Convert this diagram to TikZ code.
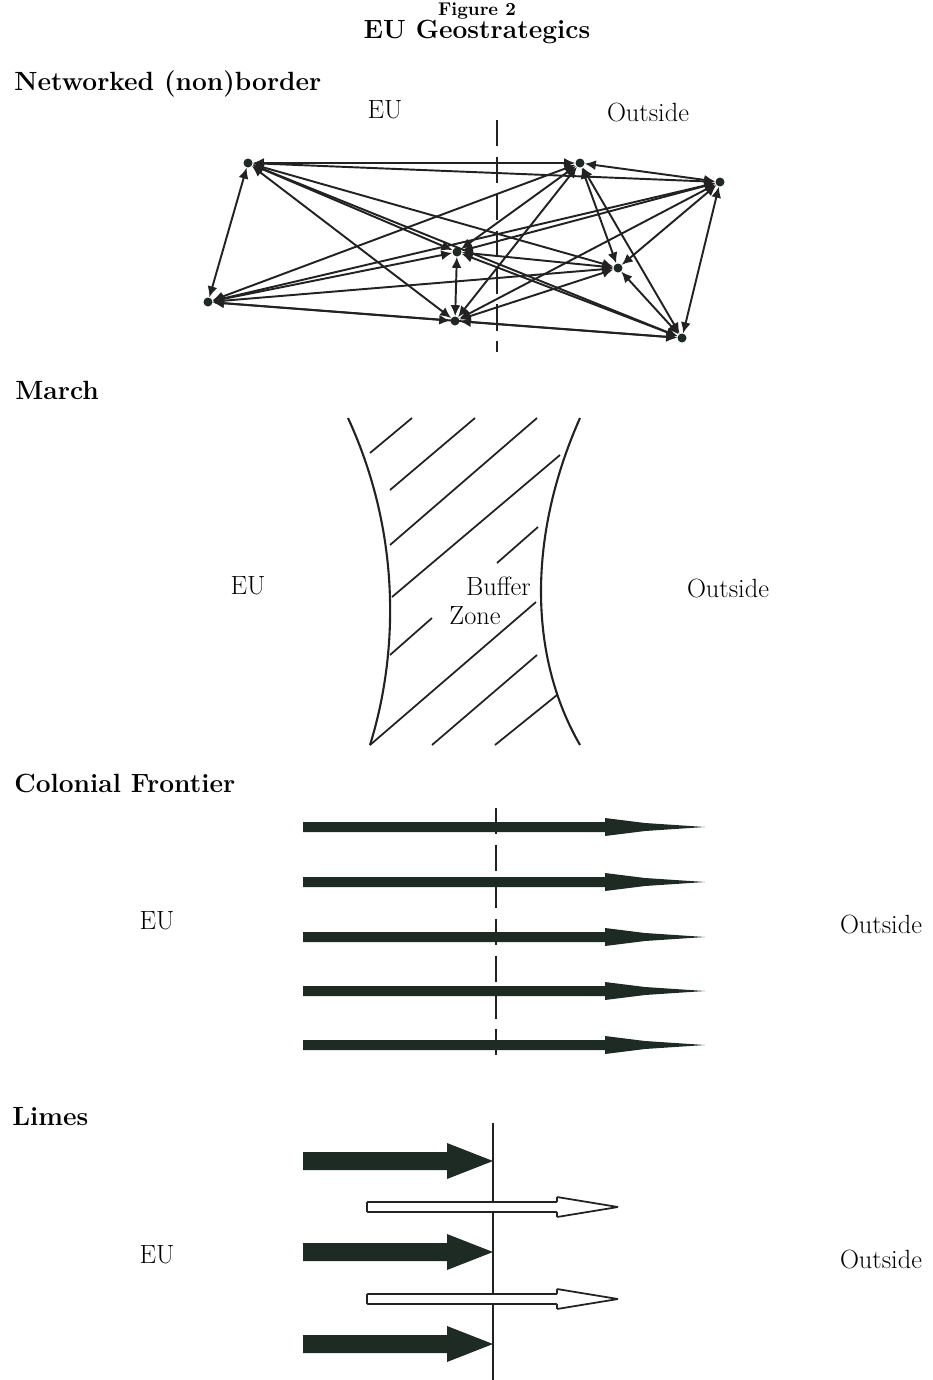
\documentclass[tikz,border=0pt]{standalone}
\usetikzlibrary{arrows.meta}

\definecolor{inkdark}{HTML}{1E2B24}
\definecolor{inkline}{HTML}{222222}

\tikzset{
  heading/.style={anchor=base west,inner sep=0pt,font=\bfseries\fontsize{15}{18}\selectfont},
  label/.style={inner sep=0pt,font=\fontsize{15}{18}\selectfont},
  netnode/.style={circle,fill=inkdark,inner sep=0pt,minimum size=0.18cm},
  netline/.style={draw=inkline,line width=1.1pt,{Latex[length=0.22cm,width=0.2cm]}-{Latex[length=0.22cm,width=0.2cm]}},
  borderdash/.style={draw=inkline,line width=1pt,dash pattern=on 15pt off 6pt},
  marchline/.style={draw=inkline,line width=1.2pt},
  hatch/.style={draw=inkline,line width=1pt},
  frontierarrow/.style={fill=inkdark},
  heavyarrow/.style={fill=inkdark},
  hollowarrow/.style={draw=inkline,fill=white,line width=1pt,rounded corners=0.5pt}
}

\begin{document}
\begin{tikzpicture}[x=0.02cm,y=-0.02cm]
\useasboundingbox (0,0) rectangle (933,1380);

% title
\node[anchor=base,inner sep=0pt,font=\bfseries\fontsize{10.5}{12}\selectfont] (fig) at (477,15) {Figure 2};
\node[anchor=base,inner sep=0pt,font=\bfseries\fontsize{15}{18}\selectfont] (title) at (477,38) {EU Geostrategics};

% networked (non)border
\node[heading] (hnet) at (14,90) {Networked (non)border};
\node[label] (neteu) at (385,110) {EU};
\node[label] (netout) at (648,112) {Outside};

\draw[borderdash] (497,120) -- (497,352);

\node[netnode] (A) at (248,163) {};
\node[netnode] (B) at (580,163) {};
\node[netnode] (C) at (720,182) {};
\node[netnode] (D) at (457,252) {};
\node[netnode] (E) at (618,268) {};
\node[netnode] (F) at (208,302) {};
\node[netnode] (G) at (455,321) {};
\node[netnode] (H) at (682,338) {};

\path (A) edge[netline] (B) edge[netline] (C) edge[netline] (D) edge[netline] (E)
          edge[netline] (F) edge[netline] (G) edge[netline] (H);
\path (B) edge[netline] (C) edge[netline] (D) edge[netline] (E) edge[netline] (F)
          edge[netline] (G) edge[netline] (H);
\path (C) edge[netline] (D) edge[netline] (E) edge[netline] (F) edge[netline] (G)
          edge[netline] (H);
\path (D) edge[netline] (E) edge[netline] (F) edge[netline] (G) edge[netline] (H);
\path (E) edge[netline] (F) edge[netline] (G) edge[netline] (H);
\path (F) edge[netline] (G) edge[netline] (H);
\path (G) edge[netline] (H);

% march
\node[heading] (hmarch) at (15,399) {March};

\draw[marchline] (348,418) .. controls (402,535) and (398,655) .. (370,745);
\draw[marchline] (580,418) .. controls (528,535) and (528,655) .. (580,745);

\draw[hatch] (370,453) -- (412,418);
\draw[hatch] (390,490) -- (475,418);
\draw[hatch] (390,545) -- (537,418);
\draw[hatch] (392,597) -- (560,455);
\draw[hatch] (497,563) -- (538,527);
\draw[hatch] (390,655) -- (432,618);
\draw[hatch] (370,745) -- (536,602);
\draw[hatch] (432,745) -- (537,655);
\draw[hatch] (495,745) -- (557,695);

\node[label] (marcheu) at (248,586) {EU};
\node[label,anchor=base east] (buffer) at (531,595) {Buffer};
\node[label] (zone) at (475,616) {Zone};
\node[label] (marchout) at (728,588) {Outside};

% colonial frontier
\node[heading] (hcol) at (14,792) {Colonial Frontier};

\draw[borderdash] (496,808) -- (496,1055);

\fill[frontierarrow] (303,822) -- ++(302,0) -- ++(0,-4) -- ++(40,5) -- ++(60,4) -- ++(-60,4) -- ++(-40,5) -- ++(0,-4) -- ++(-302,0) -- cycle;
\fill[frontierarrow] (303,877) -- ++(302,0) -- ++(0,-4) -- ++(40,5) -- ++(60,4) -- ++(-60,4) -- ++(-40,5) -- ++(0,-4) -- ++(-302,0) -- cycle;
\fill[frontierarrow] (303,932) -- ++(302,0) -- ++(0,-4) -- ++(40,5) -- ++(60,4) -- ++(-60,4) -- ++(-40,5) -- ++(0,-4) -- ++(-302,0) -- cycle;
\fill[frontierarrow] (303,986) -- ++(302,0) -- ++(0,-4) -- ++(40,5) -- ++(60,4) -- ++(-60,4) -- ++(-40,5) -- ++(0,-4) -- ++(-302,0) -- cycle;
\fill[frontierarrow] (303,1040) -- ++(302,0) -- ++(0,-4) -- ++(40,5) -- ++(60,4) -- ++(-60,4) -- ++(-40,5) -- ++(0,-4) -- ++(-302,0) -- cycle;

\node[label] (coleu) at (157,921) {EU};
\node[label] (colout) at (881,924) {Outside};

% limes
\node[heading] (hlimes) at (12,1125) {Limes};

\draw[draw=inkline,line width=1pt] (493,1123) -- (493,1380);

\fill[heavyarrow] (303,1152) -- ++(144,0) -- ++(0,-9) -- ++(46,18) -- ++(-46,18) -- ++(0,-9) -- ++(-144,0) -- cycle;
\fill[heavyarrow] (303,1243) -- ++(144,0) -- ++(0,-9) -- ++(46,18) -- ++(-46,18) -- ++(0,-9) -- ++(-144,0) -- cycle;
\fill[heavyarrow] (303,1335) -- ++(144,0) -- ++(0,-9) -- ++(46,18) -- ++(-46,18) -- ++(0,-9) -- ++(-144,0) -- cycle;

\draw[hollowarrow] (367,1202) -- ++(190,0) -- ++(0,-5) -- ++(61,10) -- ++(-61,10) -- ++(0,-5) -- ++(-190,0) -- cycle;
\draw[hollowarrow] (367,1294) -- ++(190,0) -- ++(0,-5) -- ++(61,10) -- ++(-61,10) -- ++(0,-5) -- ++(-190,0) -- cycle;

\node[label] (limeu) at (157,1255) {EU};
\node[label] (limout) at (881,1259) {Outside};
\end{tikzpicture}
\end{document}
